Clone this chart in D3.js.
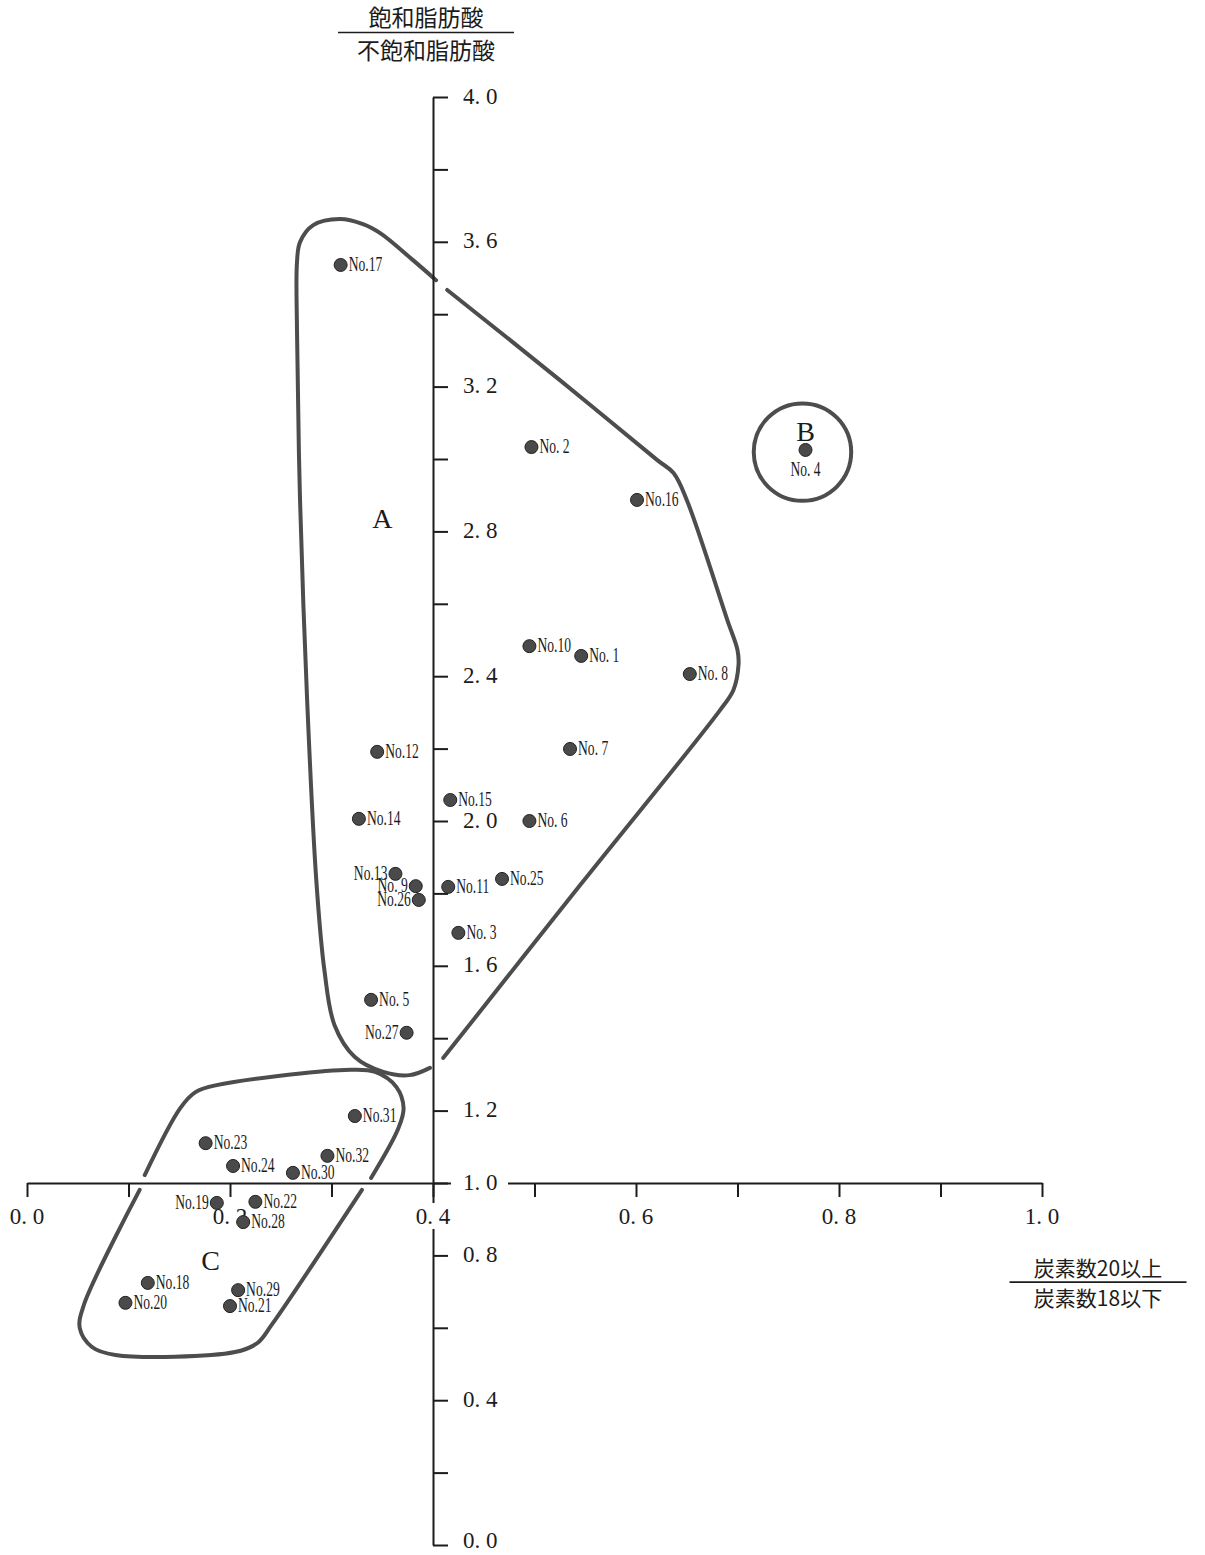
<!DOCTYPE html>
<html>
<head>
<meta charset="utf-8">
<script src="https://cdn.jsdelivr.net/npm/d3@7"></script>
<style>
  html, body { margin: 0; padding: 0; background: #fff; }
  svg { display: block; }
</style>
</head>
<body>
<svg id="chart" width="1205" height="1555"></svg>
<script>
// Samples: long-chain ratio (C20+ / C18-) vs. saturated / unsaturated fatty-acid ratio
const sampleIds = ["No.17","No. 2","No.16","No. 4","No.10","No. 1","No. 8","No. 7","No.12","No.15",
                   "No.14","No. 6","No.13","No. 9","No.26","No.11","No.25","No. 3","No. 5","No.27",
                   "No.31","No.23","No.24","No.32","No.30","No.19","No.22","No.28","No.18","No.29",
                   "No.20","No.21"];
const carbonRatio = [0.309,0.497,0.601,0.767,0.495,0.546,0.653,0.535,0.345,0.417,
                     0.327,0.495,0.363,0.383,0.386,0.415,0.468,0.425,0.339,0.374,
                     0.323,0.176,0.203,0.296,0.262,0.187,0.225,0.213,0.119,0.208,
                     0.097,0.200];
const satRatio    = [3.536,3.033,2.887,3.025,2.483,2.456,2.406,2.199,2.191,2.058,
                     2.006,2.000,1.854,1.820,1.782,1.818,1.840,1.691,1.506,1.415,
                     1.185,1.110,1.047,1.075,1.028,0.945,0.948,0.892,0.724,0.704,
                     0.669,0.660];

// Axis ticks and labels
const xTickValues = [0,0.1,0.2,0.3,0.4,0.5,0.6,0.7,0.8,0.9,1.0];
const xLabelValues = [0,0.2,0.4,0.6,0.8,1.0];
const xLabelText = ["0. 0","0. 2","0. 4","0. 6","0. 8","1. 0"];
const yTickValues = [0,0.2,0.4,0.6,0.8,1.0,1.2,1.4,1.6,1.8,2.0,2.2,2.4,2.6,2.8,3.0,3.2,3.4,3.6,3.8,4.0];
const yLabelValues = [0,0.4,0.8,1.0,1.2,1.6,2.0,2.4,2.8,3.2,3.6,4.0];
const yLabelText = ["0. 0","0. 4","0. 8","1. 0","1. 2","1. 6","2. 0","2. 4","2. 8","3. 2","3. 6","4. 0"];

// Group names and enclosing outlines (data units)
const groupNames = ["A","B","C"];
const groupLabelX = [0.350,0.767,0.181];
const groupLabelY = [2.837,3.077,0.787];
const groupACurveLeft = [
  [0.403,3.494],[0.380,3.550],[0.348,3.624],[0.331,3.649],[0.308,3.663],[0.282,3.646],
  [0.269,3.599],[0.266,3.544],[0.266,3.356],[0.269,2.887],[0.276,2.334],[0.285,1.837],
  [0.293,1.588],[0.303,1.436],[0.323,1.348],[0.351,1.307],[0.377,1.298],[0.397,1.318]];
const groupACurveRight = [
  [0.414,3.467],[0.525,3.218],[0.621,2.997],[0.637,2.961],[0.650,2.887],[0.690,2.555],
  [0.700,2.472],[0.701,2.431],[0.696,2.362],[0.683,2.307],[0.545,1.823],[0.410,1.345]];
const groupBCircle = { cx: 0.764, cy: 3.019, r: 0.048 };
const groupCCurveUpper = [
  [0.116,1.022],[0.151,1.207],[0.166,1.251],[0.188,1.271],[0.313,1.312],[0.343,1.307],
  [0.364,1.265],[0.371,1.207],[0.366,1.152],[0.339,1.014]];
const groupCCurveLower = [
  [0.330,0.981],[0.241,0.608],[0.227,0.558],[0.205,0.533],[0.087,0.525],[0.064,0.547],
  [0.052,0.599],[0.056,0.663],[0.111,0.981]];

// Label placement for crowded points
const labelLeft = new Set(["No.13","No. 9","No.26","No.27","No.19"]);
const labelBelow = new Set(["No. 4"]);

const svg = d3.select("#chart");
const x = d3.scaleLinear().domain([0, 1]).range([27, 1042]);
const y = d3.scaleLinear().domain([0, 4]).range([1545, 97]);

const ink = "#1c1c1c";
const serif = "'Liberation Serif','DejaVu Serif',serif";
const cjk = "'Noto Sans CJK JP','Noto Sans CJK SC',sans-serif";

// Group outlines
const outline = d3.line().x(d => x(d[0])).y(d => y(d[1])).curve(d3.curveCatmullRom.alpha(0.5));
const outlines = svg.append("g")
  .attr("fill", "none").attr("stroke", "#4d4d4d").attr("stroke-width", 4)
  .attr("stroke-linecap", "round").attr("stroke-linejoin", "round");
[groupACurveLeft, groupACurveRight, groupCCurveUpper, groupCCurveLower].forEach(c => {
  outlines.append("path").attr("d", outline(c));
});
outlines.append("circle")
  .attr("cx", x(groupBCircle.cx)).attr("cy", y(groupBCircle.cy))
  .attr("r", x(groupBCircle.r) - x(0));

// X axis (drawn through y = 1.0)
const xAxisG = svg.append("g")
  .attr("transform", `translate(0,${y(1.0)})`)
  .call(d3.axisBottom(x).tickValues(xTickValues).tickSize(14).tickSizeOuter(0).tickFormat(""));
xAxisG.select(".domain").attr("stroke", ink).attr("stroke-width", 2);
xAxisG.selectAll(".tick line").attr("stroke", ink).attr("stroke-width", 2);

// Y axis (drawn through x = 0.4)
const yAxisG = svg.append("g")
  .attr("transform", `translate(${x(0.4)},0)`)
  .call(d3.axisRight(y).tickValues(yTickValues).tickSize(15).tickSizeOuter(0).tickFormat(""));
yAxisG.select(".domain").attr("stroke", ink).attr("stroke-width", 2);
yAxisG.selectAll(".tick line").attr("stroke", ink).attr("stroke-width", 2);

// X tick labels
const xLab = svg.append("g").attr("font-family", serif).attr("font-size", 23).attr("fill", ink);
xLabelValues.forEach((v, i) => {
  const cx = x(v), cy = y(1.0) + 33;
  if (v === 0.4) {
    xLab.append("rect").attr("x", cx - 19).attr("y", cy - 13).attr("width", 38).attr("height", 26).attr("fill", "#fff");
  }
  xLab.append("text").attr("x", cx).attr("y", cy).attr("text-anchor", "middle")
    .attr("dominant-baseline", "central").text(xLabelText[i]);
});

// Y tick labels
const yLab = svg.append("g").attr("font-family", serif).attr("font-size", 23).attr("fill", ink);
yLabelValues.forEach((v, i) => {
  const lx = x(0.4) + 30, ly = y(v) - (v === 0 ? 5 : 1);
  if (v === 1.0) {
    yLab.append("rect").attr("x", x(0.4) + 18).attr("y", ly - 12).attr("width", 57).attr("height", 24).attr("fill", "#fff");
  }
  yLab.append("text").attr("x", lx).attr("y", ly).attr("dominant-baseline", "central").text(yLabelText[i]);
});

// Axis titles as fractions
function fraction(cx, top, num, den, lineW, size) {
  const g = svg.append("g").attr("font-family", cjk).attr("font-size", size).attr("fill", ink);
  g.append("text").attr("x", cx).attr("y", top).attr("text-anchor", "middle").attr("dominant-baseline", "central").text(num);
  g.append("line").attr("x1", cx - lineW / 2).attr("x2", cx + lineW / 2)
    .attr("y1", top + size * 0.72).attr("y2", top + size * 0.72).attr("stroke", ink).attr("stroke-width", 1.6);
  g.append("text").attr("x", cx).attr("y", top + size * 1.42).attr("text-anchor", "middle").attr("dominant-baseline", "central").text(den);
}
fraction(426, 16, "飽和脂肪酸", "不飽和脂肪酸", 176, 23);
fraction(1098, 1267, "炭素数20以上", "炭素数18以下", 177, 21);

// Group letters
const letters = svg.append("g").attr("font-family", serif).attr("font-size", 28).attr("fill", ink);
groupNames.forEach((n, i) => {
  letters.append("text").attr("x", x(groupLabelX[i])).attr("y", y(groupLabelY[i]))
    .attr("text-anchor", "middle").attr("dominant-baseline", "central").text(n);
});

// Points
const pts = sampleIds.map((id, i) => ({ id, cx: carbonRatio[i], cy: satRatio[i] }));
svg.append("g").selectAll("circle").data(pts).join("circle")
  .attr("cx", d => x(d.cx)).attr("cy", d => y(d.cy)).attr("r", 6.5)
  .attr("fill", "#4a4a4a").attr("stroke", "#222").attr("stroke-width", 1);

// Point labels (narrow serif)
const plab = svg.append("g").attr("font-family", serif).attr("font-size", 20).attr("fill", ink);
pts.forEach(d => {
  const px = x(d.cx), py = y(d.cy);
  let tx = px + 8, ty = py + 6, anchor = "start";
  if (labelLeft.has(d.id)) { tx = px - 8; anchor = "end"; }
  if (labelBelow.has(d.id)) { tx = px; ty = py + 26; anchor = "middle"; }
  plab.append("text")
    .attr("transform", `translate(${tx},${ty}) scale(0.68,1)`)
    .attr("text-anchor", anchor).text(d.id);
});
</script>
</body>
</html>
